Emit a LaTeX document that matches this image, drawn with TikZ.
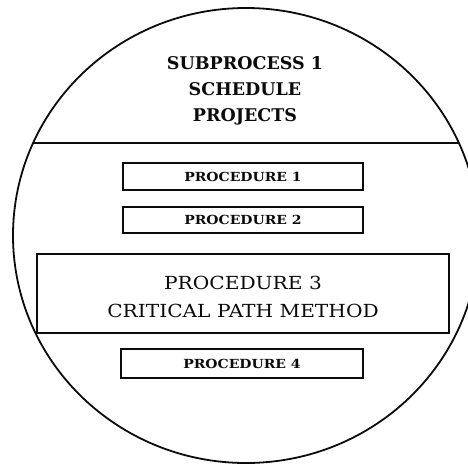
\documentclass[tikz,border=0pt]{standalone}
\usepackage{fontspec}
\setmainfont{DejaVu Serif}
\newfontfamily\letraancha[FakeStretch=1.12]{DejaVu Serif}
\usetikzlibrary{positioning}
\definecolor{tinta}{HTML}{0B0B0B}
\tikzset{
  borde/.style={draw=tinta,line width=1.8pt},
  linea/.style={draw=tinta,line width=1.3pt},
  caja/.style={draw=tinta,line width=1.2pt,inner sep=0pt,minimum width=240pt,minimum height=27pt,font=\letraancha\bfseries\fontsize{12.5}{14}\selectfont,text=tinta},
  cajagrande/.style={draw=tinta,line width=1.2pt,inner sep=0pt,minimum width=412pt,minimum height=79pt,align=center,font=\letraancha\fontsize{18}{28}\selectfont,text=tinta},
  titulo/.style={align=center,inner sep=0pt,font=\bfseries\fontsize{17.5}{26}\selectfont,text=tinta},
}

\begin{document}
\begin{tikzpicture}[x=1pt,y=-1pt]
\useasboundingbox (0,0) rectangle (468,464);
\clip (0,0) rectangle (468,464);
% contorno del subproceso
\draw[borde] (246,235.5) ellipse [x radius=233,y radius=227.5];
\coordinate (cortei) at (33.1,143);
\coordinate (corted) at (458.9,143);
\draw[linea] (cortei) -- (corted);
\node[titulo] (sub1) at (245,90.5) {SUBPROCESS 1\\SCHEDULE\\PROJECTS};
% procedimientos
\node[caja] (proc1) at (243,176.5) {PROCEDURE 1};
\node[caja,minimum height=26pt] (proc2) at (243,220) {PROCEDURE 2};
\node[cajagrande] (proc3) at (243,293.5) {\strut PROCEDURE 3\\CRITICAL PATH METHOD};
\node[caja,minimum width=242pt,minimum height=29pt] (proc4) at (242,363.5) {PROCEDURE 4};
\end{tikzpicture}
\end{document}
